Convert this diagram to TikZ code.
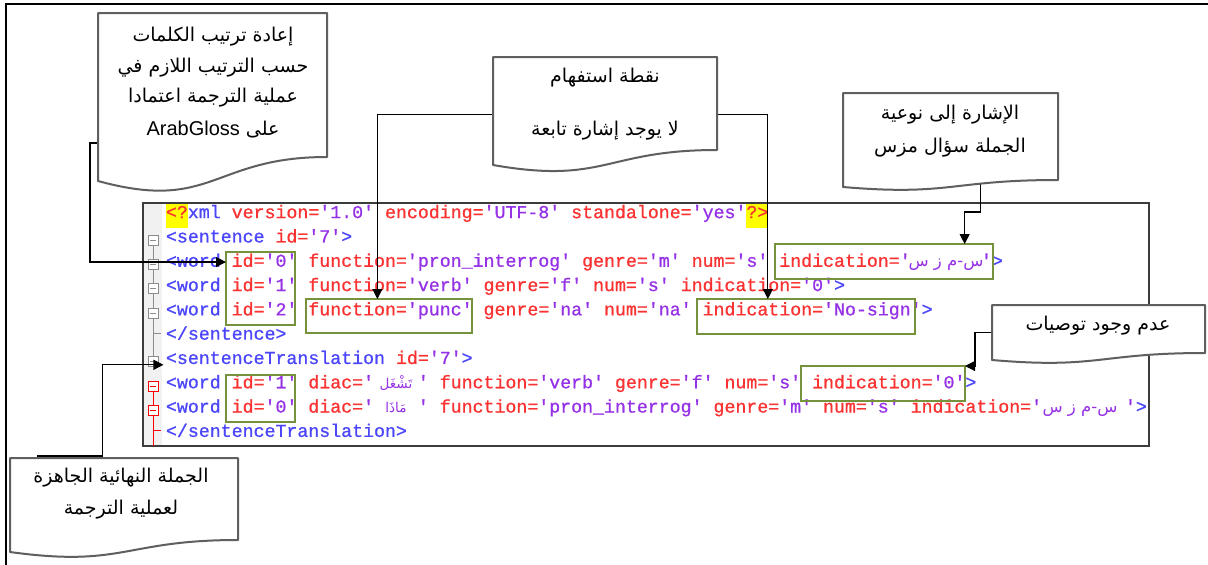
\documentclass[tikz,border=0pt]{standalone}
\usepackage{fontspec}
\usetikzlibrary{arrows.meta,calc}
\TeXXeTstate=1
\newfontfamily\arabicfont[Script=Arabic]{DejaVu Sans}
\newfontfamily\xmlfont[Ligatures=TeXOff,FakeBold=0.9]{Liberation Mono}
\newfontfamily\glossfont{Liberation Sans}

\definecolor{xtag}{RGB}{75,70,250}
\definecolor{xattr}{RGB}{250,50,50}
\definecolor{xval}{RGB}{150,50,230}
\definecolor{xhl}{RGB}{255,255,0}
\definecolor{gmark}{RGB}{118,146,60}
\definecolor{docgray}{RGB}{95,95,95}
\definecolor{foldgray}{RGB}{140,140,140}
\definecolor{guttergray}{RGB}{241,241,241}
\definecolor{editgray}{RGB}{60,60,60}

\newcommand\xT[1]{\textcolor{xtag}{#1}}
\newcommand\xA[1]{\textcolor{xattr}{#1}}
\newcommand\xV[1]{\textcolor{xval}{#1}}

% flowchart "document" outline over an invisible frame node; #2 = depth of the wave
\newcommand\docoutline[2]{%
  \draw[docline] (#1.north west) -- (#1.north east) -- (#1.south east)
    .. controls (#1.south) and ($(#1.south)+(0,2.31*#2)$)
    .. ($(#1.south west)+(0,#2)$) -- cycle;}

\tikzset{
  xml/.style={font=\xmlfont\fontsize{18.25}{20}\selectfont, inner sep=0, outer sep=0, anchor=mid west},
  xar/.style={font=\arabicfont\fontsize{16.5}{18}\selectfont, text=xval, inner sep=0, anchor=mid},
  xdiac/.style={xar, font=\arabicfont\fontsize{13.5}{16}\selectfont},
  ctext/.style={font=\arabicfont\fontsize{19}{22}\selectfont, inner sep=0, anchor=mid},
  cframe/.style={inner sep=0, outer sep=0, anchor=north west},
  docline/.style={draw=docgray, line width=2, fill=white, line join=round},
  conn/.style={draw=black, line width=1.1, -{Triangle[length=10pt,width=10pt]}},
  hitbox/.style={draw=gmark, line width=1.4, inner sep=0, outer sep=0, anchor=north west},
  fold/.style={draw=#1, fill=white, minimum size=10, inner sep=0, line width=0.9,
    path picture={\draw[#1, line width=1] ([xshift=2]path picture bounding box.west)
      -- ([xshift=-2]path picture bounding box.east);}},
}

\begin{document}
\begin{tikzpicture}[x=1pt,y=-1pt]
\useasboundingbox (0,0) rectangle (1208,565);
\fill[white] (0,0) rectangle (1208,565);

% page frame (top and left edges)
\draw[line width=1.5] (1208,4) -- (6,4) -- (6,565);

% editor window
\node[draw=editgray, fill=white, line width=1.3, minimum width=1006, minimum height=243,
      anchor=north west, inner sep=0, outer sep=0] (editor) at (143,203) {};
\fill[guttergray] (144,204) rectangle (162,445);

% highlighted processing-instruction delimiters
\fill[xhl] (166,204) rectangle (188,228);
\fill[xhl] (746,204) rectangle (768,228);

% XML lines
\node[xml] (r1) at (166,216) {\xA{<?}\xT{xml} \xA{version=}\xV{'1.0'} \xA{encoding=}\xV{'UTF-8'} \xA{standalone=}\xV{'yes'}\xA{?>}};
\node[xml] (r2) at (166,240.3) {\xT{<sentence} \xA{id=}\xV{'7'}\xT{>}};
\node[xml] (r3a) at (166,264.6) {\xT{<word} \xA{id=}\xV{'0'} \xA{function=}\xV{'pron\_interrog'} \xA{genre=}\xV{'m'} \xA{num=}\xV{'s'} \xA{indication=}\xV{'}};
\node[xar] (r3b) at (946,264.6) {\beginR س-م ز س\endR};
\node[xml] (r3c) at (981,264.6) {\xV{'}\xT{>}};
\node[xml] (r4) at (166,288.9) {\xT{<word} \xA{id=}\xV{'1'} \xA{function=}\xV{'verb'} \xA{genre=}\xV{'f'} \xA{num=}\xV{'s'} \xA{indication=}\xV{'0'}\xT{>}};
\node[xml] (r5) at (166,313.2) {\xT{<word} \xA{id=}\xV{'2'} \xA{function=}\xV{'punc'} \xA{genre=}\xV{'na'} \xA{num=}\xV{'na'} \xA{indication=}\xV{'No-sign'}\xT{>}};
\node[xml] (r6) at (166,337.5) {\xT{</sentence>}};
\node[xml] (r7) at (166,361.8) {\xT{<sentenceTranslation} \xA{id=}\xV{'7'}\xT{>}};
\node[xml] (r8a) at (166,386.1) {\xT{<word} \xA{id=}\xV{'1'} \xA{diac=}\xV{'}};
\node[xdiac] (r8b) at (396,386.1) {\beginR تَشْغَل\endR};
\node[xml] (r8c) at (417.85,386.1) {\xV{'} \xA{function=}\xV{'verb'} \xA{genre=}\xV{'f'} \xA{num=}\xV{'s'} \xA{indication=}\xV{'0'}\xT{>}};
\node[xml] (r9a) at (166,410.4) {\xT{<word} \xA{id=}\xV{'0'} \xA{diac=}\xV{'}};
\node[xdiac] (r9b) at (396,410.4) {\beginR مَاذَا\endR};
\node[xml] (r9c) at (417.85,410.4) {\xV{'} \xA{function=}\xV{'pron\_interrog'} \xA{genre=}\xV{'m'} \xA{num=}\xV{'s'} \xA{indication=}\xV{'}};
\node[xar] (r9d) at (1080,410.4) {\beginR س-م ز س\endR};
\node[xml] (r9e) at (1125,410.4) {\xV{'}\xT{>}};
\node[xml] (r10) at (166,434.7) {\xT{</sentenceTranslation>}};

% folding margin
\node[fold=foldgray] (m2) at (153,240.3) {};
\node[fold=foldgray] (m3) at (153,264.6) {};
\node[fold=foldgray] (m4) at (153,288.9) {};
\node[fold=foldgray] (m5) at (153,313.2) {};
\node[fold=foldgray] (m7) at (153,361.8) {};
\node[fold=red] (m8) at (153,386.1) {};
\node[fold=red] (m9) at (153,410.4) {};
\begin{scope}[foldgray, line width=0.9]
  \draw (m2.south) -- (m3.north);
  \draw (m3.south) -- (m4.north);
  \draw (m4.south) -- (m5.north);
  \draw (m5.south) -- (m7.north);
  \draw (m5.south |- r6.west) -- ++(8,0);
\end{scope}
\begin{scope}[red, line width=0.9]
  \draw (m8.south) -- (m9.north);
  \draw (m9.south) -- (m9.south |- editor.south);
  \draw (m9.south |- r10.west) -- ++(8,0);
\end{scope}

% marked attributes
\node[hitbox, minimum width=69, minimum height=73] (idA) at (226,252) {};
\node[hitbox, minimum width=166, minimum height=34] (punc) at (306,299) {};
\node[hitbox, minimum width=218, minimum height=35] (ind3) at (775,244) {};
\node[hitbox, minimum width=218, minimum height=35] (nosign) at (697,299) {};
\node[hitbox, minimum width=69, minimum height=47] (idB) at (226,375) {};
\node[hitbox, minimum width=164, minimum height=35] (ind8) at (801,366) {};

% callout frames
\node[cframe, minimum width=229, minimum height=144] (c1) at (98,13) {};
\node[cframe, minimum width=224, minimum height=93] (c2) at (493,57) {};
\node[cframe, minimum width=215, minimum height=87] (c3) at (843,93) {};
\node[cframe, minimum width=213, minimum height=48] (c4) at (992,305) {};
\node[cframe, minimum width=228, minimum height=82] (c5) at (10,458) {};

% connectors
\draw[conn] ($(c1.north west)!0.903!(c1.south west)$) -- ++(-8,0) |- (idA.west |- r3a.west);
\draw[conn] ($(c2.north west)!0.62!(c2.south west)$) -| ($(punc.north west)!0.43!(punc.north east)$);
\draw[conn] ($(c2.north east)!0.62!(c2.south east)$) -| ($(nosign.north west)!0.325!(nosign.north east)$);
\draw[conn] ($(c3.south west)!0.64!(c3.south east)$) -- ++(0,32) -| ($(ind3.north west)!0.87!(ind3.north east)$);
\draw[conn] ($(c4.north west)!0.58!(c4.south west)$) -- ++(-17,0) |- (ind8.north east);
\draw[conn] ($(c5.north west)!0.12!(c5.north east)+(0,-2)$) -- ($(c5.north west)!0.405!(c5.north east)+(0,-2)$) |- ($(m7.east)+(5,3)$);

% callout outlines
\docoutline{c1}{24}
\docoutline{c2}{15}
\docoutline{c3}{7}
\docoutline{c4}{7}
\docoutline{c5}{12}

% callout texts
\node[ctext] (t11) at (213,39) {\beginR إعادة ترتيب الكلمات\endR};
\node[ctext] (t12) at (213,70) {\beginR حسب الترتيب اللازم في\endR};
\node[ctext] (t13) at (213,100) {\beginR عملية الترجمة اعتمادا\endR};
\node[ctext] (t14) at (213,133) {\beginR على \beginL{\glossfont\fontsize{20}{22}\selectfont ArabGloss}\endL\endR};
\node[ctext] (t21) at (605,80) {\beginR نقطة استفهام\endR};
\node[ctext] (t22) at (605,133) {\beginR لا يوجد إشارة تابعة\endR};
\node[ctext] (t31) at (950,117) {\beginR الإشارة إلى نوعية\endR};
\node[ctext] (t32) at (950,150) {\beginR الجملة سؤال مزس\endR};
\node[ctext] (t41) at (1098,328) {\beginR عدم وجود توصيات\endR};
\node[ctext] (t51) at (121,480) {\beginR الجملة النهائية الجاهزة\endR};
\node[ctext] (t52) at (121,512) {\beginR لعملية الترجمة\endR};
\end{tikzpicture}
\end{document}
